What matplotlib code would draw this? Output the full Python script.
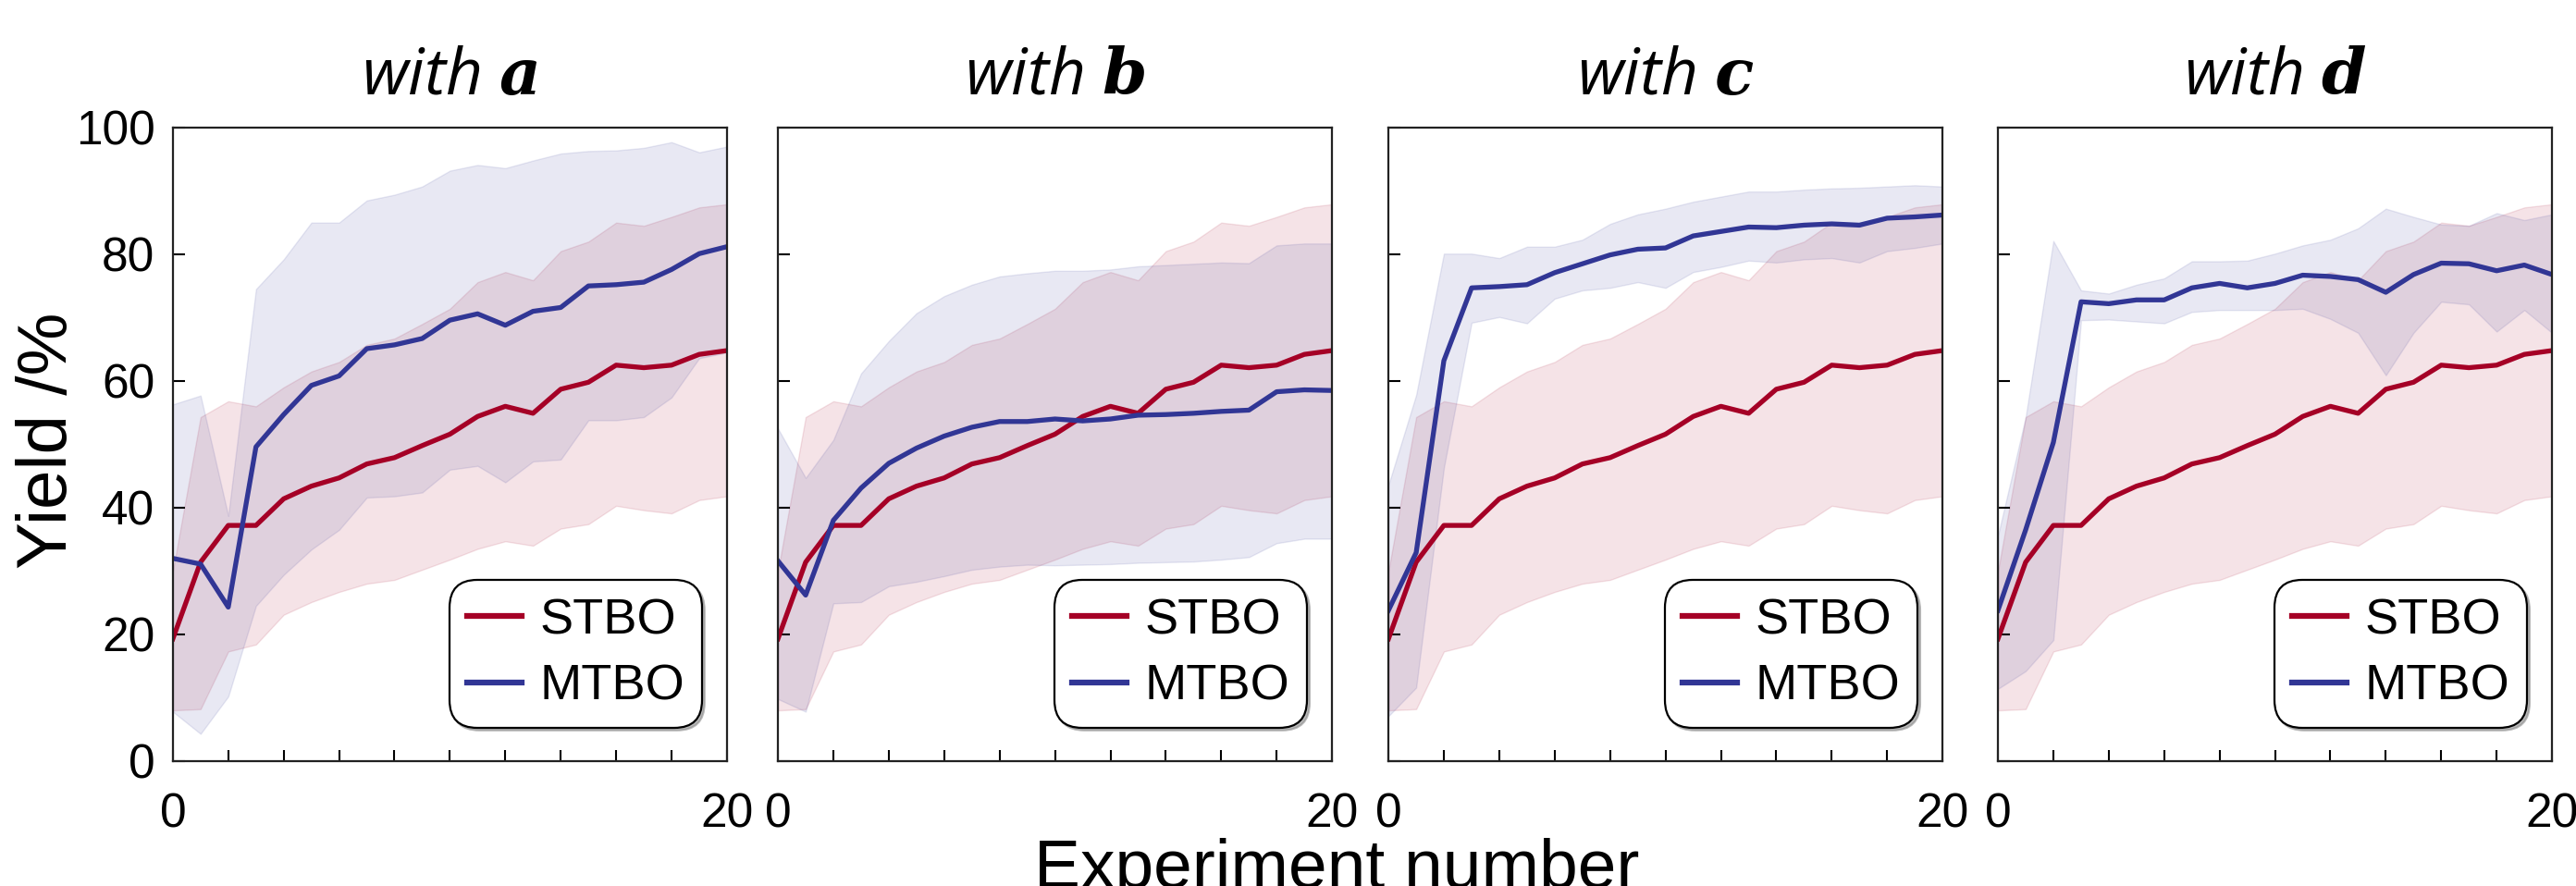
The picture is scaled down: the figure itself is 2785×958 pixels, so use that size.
import numpy as np
import matplotlib
matplotlib.use("Agg")
import matplotlib.pyplot as plt

plt.rcParams['font.family'] = ['Liberation Sans', 'DejaVu Sans']
plt.rcParams['mathtext.fontset'] = 'custom'
plt.rcParams['mathtext.bfit'] = 'DejaVu Serif:italic:bold'

# experiment index
x = np.arange(21)

# STBO (same in every panel)
stbo_mean = [19.3, 31.4, 37.2, 37.2, 41.4, 43.4, 44.7, 46.9, 47.9, 49.8, 51.6,
             54.4, 56.0, 54.9, 58.7, 59.8, 62.5, 62.1, 62.5, 64.2, 64.8]
stbo_hi = [30.0, 54.3, 56.8, 56.0, 59.0, 61.5, 63.0, 65.7, 66.7, 69.0, 71.4,
           75.6, 77.2, 75.9, 80.5, 82.0, 85.0, 84.5, 85.9, 87.4, 87.9]
stbo_lo = [8.0, 8.2, 17.3, 18.4, 23.1, 25.1, 26.7, 28.0, 28.6, 30.2, 31.8,
           33.5, 34.7, 34.0, 36.7, 37.4, 40.3, 39.6, 39.1, 41.2, 41.8]

# MTBO with a
mtbo_a = [32.0, 31.1, 24.3, 49.6, 54.7, 59.3, 60.8, 65.1, 65.7, 66.7, 69.6,
          70.6, 68.8, 71.0, 71.6, 75.0, 75.2, 75.6, 77.6, 80.1, 81.2]
mtbo_a_hi = [56.3, 57.7, 38.7, 74.5, 79.2, 85.0, 85.0, 88.5, 89.4, 90.7, 93.2,
             94.1, 93.6, 94.8, 95.9, 96.3, 96.4, 96.8, 97.7, 96.1, 97.0]
mtbo_a_lo = [7.8, 4.3, 10.2, 24.5, 29.4, 33.4, 36.5, 41.6, 41.8, 42.4, 46.0,
             46.6, 44.0, 47.3, 47.6, 53.8, 53.8, 54.3, 57.4, 63.6, 64.5]

# MTBO with b
mtbo_b = [31.6, 26.2, 38.0, 43.1, 47.0, 49.4, 51.3, 52.7, 53.6, 53.6, 54.0,
          53.7, 54.0, 54.6, 54.7, 54.9, 55.2, 55.4, 58.3, 58.6, 58.5]
mtbo_b_hi = [52.5, 44.7, 50.7, 61.2, 66.3, 70.7, 73.4, 75.2, 76.5, 77.0, 77.4,
             77.4, 77.6, 78.1, 78.3, 78.5, 78.7, 78.6, 81.4, 81.7, 81.7]
mtbo_b_lo = [9.8, 7.8, 24.9, 25.1, 27.6, 28.3, 29.2, 30.2, 30.7, 31.0, 30.9,
             31.0, 31.1, 31.3, 31.4, 31.5, 31.8, 32.2, 34.4, 35.1, 35.1]

# MTBO with c
mtbo_c = [23.8, 32.9, 63.2, 74.7, 74.9, 75.2, 77.1, 78.5, 79.9, 80.8, 81.0,
          82.9, 83.6, 84.3, 84.2, 84.6, 84.8, 84.6, 85.7, 85.9, 86.2]
mtbo_c_hi = [43.6, 57.8, 80.1, 80.1, 79.4, 81.2, 81.2, 82.3, 84.8, 86.3, 87.2,
             88.3, 89.1, 89.9, 89.9, 90.2, 90.4, 90.5, 90.7, 90.9, 90.7]
mtbo_c_lo = [7.1, 11.6, 46.3, 69.2, 70.1, 69.1, 73.0, 74.3, 74.7, 75.6, 74.7,
             77.2, 78.0, 79.0, 78.7, 79.2, 79.4, 78.7, 80.5, 81.0, 81.7]

# MTBO with d
mtbo_d = [23.8, 36.5, 50.3, 72.5, 72.2, 72.8, 72.8, 74.7, 75.4, 74.7, 75.4,
          76.7, 76.5, 76.0, 74.0, 76.8, 78.6, 78.5, 77.4, 78.3, 76.8]
mtbo_d_hi = [35.6, 54.3, 82.1, 74.3, 73.8, 75.2, 76.2, 78.9, 78.9, 79.0, 80.1,
             81.4, 82.3, 84.1, 87.2, 85.9, 84.7, 84.5, 86.5, 85.4, 86.3]
mtbo_d_lo = [11.4, 14.2, 19.1, 69.6, 69.7, 69.4, 69.1, 70.9, 71.2, 71.2, 71.2,
             71.4, 69.8, 67.6, 60.9, 67.6, 72.5, 72.1, 67.8, 71.2, 67.6]

panels = ['a', 'b', 'c', 'd']
mtbo = [(mtbo_a, mtbo_a_lo, mtbo_a_hi), (mtbo_b, mtbo_b_lo, mtbo_b_hi),
        (mtbo_c, mtbo_c_lo, mtbo_c_hi), (mtbo_d, mtbo_d_lo, mtbo_d_hi)]

red = '#a50026'
blue = '#313695'

fig = plt.figure(figsize=(27.85, 9.58), dpi=100)
lefts = [0.0671, 0.302, 0.539, 0.7756]
w = 0.2151
bottom, top = 0.141, 0.856

for i, name in enumerate(panels):
    ax = fig.add_axes([lefts[i], bottom, w, top - bottom])
    m, lo, hi = mtbo[i]
    ax.fill_between(x, stbo_lo, stbo_hi, color=red, alpha=0.11, lw=1.0)
    ax.fill_between(x, lo, hi, color=blue, alpha=0.11, lw=1.0)
    ax.plot(x, stbo_mean, color=red, lw=3.8, label='STBO')
    ax.plot(x, m, color=blue, lw=3.8, label='MTBO')

    ax.set_xlim(0, 20)
    ax.set_ylim(0, 100)
    ax.set_xticks(np.arange(0, 21, 2))
    ax.set_xticklabels(['0'] + [''] * 9 + ['20'])
    ax.set_yticks(np.arange(0, 101, 20))
    if i > 0:
        ax.set_yticklabels([])
    ax.tick_params(direction='in', length=9, width=1.5, labelsize=37)
    ax.tick_params(axis='x', pad=24)
    ax.tick_params(axis='y', pad=14)
    for s in ax.spines.values():
        s.set_linewidth(1.6)
        s.set_color('#222222')

    ax.set_title('with $\\mathbfit{%s}$' % name, fontsize=50, style='italic',
                 family='Open Sans', pad=26)

    leg = ax.legend(loc='lower right', bbox_to_anchor=(1 - 27 / 599, 36 / 685),
                    borderaxespad=0, fontsize=39, handlelength=1.1,
                    handletextpad=0.35, labelspacing=0.4, borderpad=0.35,
                    fancybox=True, framealpha=1, edgecolor='black',
                    shadow={'color': '0.55', 'alpha': 0.6})
    leg.get_frame().set_linewidth(1.6)
    leg.get_frame().set_boxstyle('round,pad=0,rounding_size=0.55')
    for ln in leg.get_lines():
        ln.set_linewidth(4.5)

fig.text(0.0187, 0.503, 'Yield /%', rotation=90, fontsize=55,
         ha='center', va='center')
fig.text(0.519, -0.002, 'Experiment number', fontsize=54,
         ha='center', va='baseline')

fig.savefig('out.png', dpi=100)
